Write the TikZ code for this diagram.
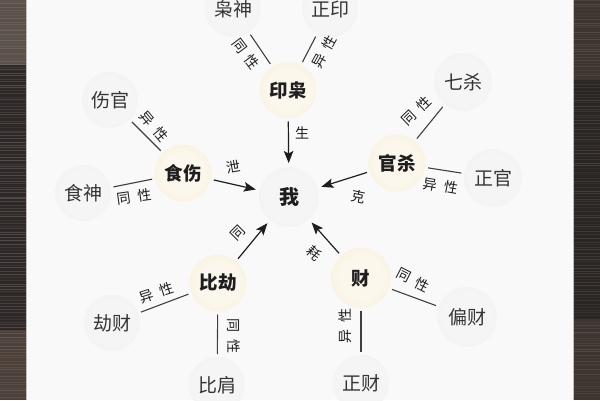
\documentclass[tikz,border=0pt]{standalone}
\usepackage{fontspec}
\newfontfamily\cjk{Noto Sans CJK SC}
\usetikzlibrary{arrows.meta}
\definecolor{paper}{HTML}{F9F9F9}
\definecolor{ink}{HTML}{1E1E1E}
\definecolor{pA}{HTML}{FBF7EC}
\definecolor{pB}{HTML}{F7EFD9}
\definecolor{pC}{HTML}{EFE3C0}
\definecolor{pD}{HTML}{F2E9CF}
\definecolor{pE}{HTML}{F6F2E6}
\definecolor{gA}{HTML}{F5F5F5}
\definecolor{gB}{HTML}{F0F0F0}
\definecolor{gC}{HTML}{E5E5E5}
\definecolor{gD}{HTML}{E9E9E9}
\definecolor{gE}{HTML}{F2F2F2}
\definecolor{woodA}{HTML}{5B514B}
\definecolor{woodB}{HTML}{2E2928}
\definecolor{woodC}{HTML}{4B403A}
\definecolor{woodD}{HTML}{2A2624}
\definecolor{woodE}{HTML}{3D3530}
\definecolor{grain}{HTML}{8A7C72}
\pgfdeclareradialshading{primball}{\pgfpoint{0bp}{0bp}}{color(0bp)=(pA); color(18bp)=(pA); color(34bp)=(pB); color(45bp)=(pC); color(48bp)=(pD); color(50bp)=(pE)}
\pgfdeclareradialshading{secball}{\pgfpoint{0bp}{0bp}}{color(0bp)=(gA); color(20bp)=(gA); color(36bp)=(gB); color(45bp)=(gC); color(48bp)=(gD); color(50bp)=(gE)}
\tikzset{
  prim/.style={circle, minimum size=57pt, inner sep=0pt, outer sep=3pt, shading=primball,
    font=\cjk\bfseries\fontsize{18.5}{18.5}\selectfont, text=ink},
  secn/.style={circle, minimum size=56pt, inner sep=0pt, outer sep=3pt, shading=secball,
    font=\cjk\fontsize{19}{19}\selectfont, text=ink!90},
  meball/.style={circle, minimum size=60pt, inner sep=0pt, outer sep=4pt, shading=secball,
    font=\cjk\bfseries\fontsize{20}{20}\selectfont, text=ink},
  link/.style={draw=ink!85, line width=1.1pt},
  arr/.style={draw=ink, line width=1.2pt, -{Stealth[length=12pt,width=9.5pt,inset=2.5pt]}},
  lab/.style={font=\cjk\fontsize{14}{14}\selectfont, text=ink, inner sep=0pt},
}
\begin{document}
\begin{tikzpicture}[x=1pt,y=-1pt]
\useasboundingbox (0,0) rectangle (600,400);
\clip (0,0) rectangle (600,400);
% paper
\fill[paper] (0,0) rectangle (600,400);
% wood strips
\fill[woodB] (0,0) rectangle (26,400);
\fill[woodA] (0,0) rectangle (26,65);
\fill[woodC] (0,330) rectangle (26,400);
\fill[woodD] (574,0) rectangle (600,400);
\fill[woodE] (574,0) rectangle (600,80);
\fill[woodE] (574,320) rectangle (600,400);
\pgfmathsetseed{7}
\foreach \i in {0,...,132}{
  \pgfmathsetmacro{\yy}{\i*3+rnd*2}
  \pgfmathsetmacro{\op}{0.12+0.3*rnd}
  \draw[grain, opacity=\op, line width=0.6pt] (0,\yy) -- (26,\yy);
  \pgfmathsetmacro{\yz}{\i*3+rnd*2}
  \pgfmathsetmacro{\oq}{0.08+0.22*rnd}
  \draw[grain, opacity=\oq, line width=0.6pt] (574,\yz) -- (600,\yz);
}
\draw[black!25, line width=0.8pt] (26.4,0) -- (26.4,400);
\draw[black!25, line width=0.8pt] (573.6,0) -- (573.6,400);

% nodes
\node[meball] (W) at (289,197) {我};
\node[prim] (YX) at (288,90) {印枭};
\node[secn] (XS) at (233,9) {枭神};
\node[secn] (ZY) at (330,9) {正印};
\node[prim] (SS) at (183,173) {食伤};
\node[secn] (SG) at (110,100) {伤官};
\node[secn] (SC) at (83,193) {食神};
\node[prim] (GS) at (397,163) {官杀};
\node[secn, minimum size=58pt] (QS) at (463,82) {七杀};
\node[secn, minimum size=58pt] (ZG) at (493,178) {正官};
\node[prim] (BJ) at (218,283) {比劫};
\node[secn] (JC) at (112,323) {劫财};
\node[secn] (BQ) at (217,385) {比肩};
\node[prim, minimum size=60pt] (C) at (361,278) {财};
\node[secn, minimum size=60pt] (PC) at (467,317) {偏财};
\node[secn] (ZC) at (361,383) {正财};

% connectors
\draw[link] (XS) -- (YX);
\draw[link] (ZY) -- (YX);
\draw[arr] (YX) -- (W);
\draw[link] (SG) -- (SS);
\draw[link] (SC) -- (SS);
\draw[arr] (SS) -- (W);
\draw[link] (QS) -- (GS);
\draw[link] (GS) -- (ZG);
\draw[arr] (GS) -- (W);
\draw[link] (BJ) -- (JC);
\draw[link] (BJ) -- (BQ);
\draw[arr] (BJ) -- (W);
\draw[link] (C) -- (PC);
\draw[link] (C) -- (ZC);
\draw[arr] (C) -- (W);

% labels
\node[lab, rotate=-53] (l1) at (246,54) {同\hspace{7pt}性};
\node[lab, rotate=61] (l2) at (324,52) {异\hspace{7pt}性};
\node[lab] (l3) at (302,133) {生};
\node[lab, rotate=-50] (l4) at (154,126) {异\hspace{7pt}性};
\node[lab, rotate=8] (l5) at (134,197) {同\hspace{7pt}性};
\node[lab, rotate=10] (l6) at (233,167) {泄};
\node[lab, rotate=44] (l7) at (416,111) {同\hspace{7pt}性};
\node[lab, rotate=-10] (l8) at (441,186) {异\hspace{7pt}性};
\node[lab, rotate=-12] (l9) at (358,197) {克};
\node[lab, rotate=18] (l10) at (157,293) {异\hspace{7pt}性};
\node[lab, rotate=-90] (l11) at (234,336) {同\hspace{7pt}性};
\node[lab, rotate=45] (l12) at (238,233) {同};
\node[lab, rotate=-27] (l13) at (413,280) {同\hspace{7pt}性};
\node[lab, rotate=90] (l14) at (345,326) {异\hspace{7pt}性};
\node[lab, rotate=-42] (l15) at (314,253) {耗};
\end{tikzpicture}
\end{document}
